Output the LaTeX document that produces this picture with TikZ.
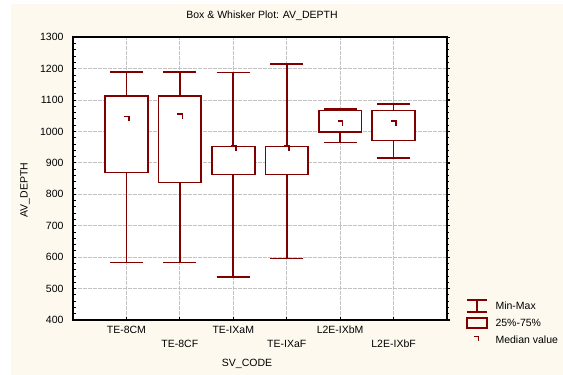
\documentclass[tikz,border=0pt]{standalone}
\usepackage{fontspec}
\setmainfont{Liberation Sans}
\definecolor{boxred}{RGB}{128,0,0}
\definecolor{cream}{RGB}{253,249,238}
\definecolor{gridgray}{RGB}{195,195,195}

\begin{document}
\begin{tikzpicture}[x=1pt,y=-1pt,font=\fontsize{10.5}{12}\selectfont,
  grid/.style={gridgray,line width=1.1pt,dash pattern=on 3.5pt off 1.5pt},
  whisk/.style={boxred,line width=1.7pt},
  frame/.style={black,line width=1.8pt}]
\useasboundingbox (0,0) rectangle (563,375);
\fill[cream] (11,4) rectangle (563,375);
\node (title) at (262,16) {Box \& Whisker Plot: AV\_DEPTH};
\node[rotate=90] (ylabel) at (25,190) {AV\_DEPTH};
\node (xlabel) at (247,364) {SV\_CODE};
% plot area in data units
\begin{scope}[shift={(73,445.6)},x=53.43pt,y=0.3141pt]
\fill[white] (0,400) rectangle (7,1300);
\foreach \v in {500,600,...,1200}
  \draw[grid] (0,\v) -- (7,\v);
\foreach \k in {1,...,6}
  \draw[grid] (\k,400) -- (\k,1300);
% boxes: position/min/q1/median/q3/max
\foreach \k/\lo/\qa/\md/\qb/\hi in {1/583/869/1040/1112/1189,
    2/583/838/1048/1112/1189, 3/537/863/946/952/1188,
    4/596/863/946/952/1214, 5/965/998/1025/1067/1072,
    6/915/971/1025/1067/1087}{
  \draw[whisk] (\k,\qb) -- (\k,\hi) (\k-0.31,\hi) -- (\k+0.31,\hi);
  \draw[whisk] (\k,\qa) -- (\k,\lo) (\k-0.31,\lo) -- (\k+0.31,\lo);
  \draw[whisk,fill=white] (\k-0.4,\qa) rectangle (\k+0.4,\qb);
  \draw[whisk,line width=1.5pt] ([xshift=-2.5pt,yshift=2.5pt]\k,\md) -- ++(5pt,0) -- ++(0,-5pt);
}
\draw[frame] (0,400) rectangle (7,1300);
\foreach \v in {420,440,...,1280}{
  \draw[black,line width=0.9pt] (0,\v) -- ++(2.5pt,0);
  \draw[black,line width=0.9pt] (7,\v) -- ++(2pt,0);
}
\foreach \v in {400,500,...,1300}{
  \node[anchor=east] (tick\v) at ([xshift=-6pt]0,\v) {\v};
  \draw[black,line width=1.2pt] (7,\v) -- ++(3pt,0);
}
\foreach \k/\name in {1/TE-8CM,3/TE-IXaM,5/L2E-IXbM}{
  \draw[black,line width=1pt] (\k,400) -- ++(0,3pt);
  \node (cat\k) at ([yshift=-10pt]\k,400) {\name};
}
\foreach \k/\name in {2/TE-8CF,4/TE-IXaF,6/L2E-IXbF}{
  \draw[black,line width=1pt] (\k,400) -- ++(0,3pt);
  \node (cat\k) at ([yshift=-24pt]\k,400) {\name};
}
\end{scope}
% legend
\draw[whisk] (467,300) -- (487,300) (477,300) -- (477,312) (467,312) -- (487,312);
\draw[whisk] (467,318) rectangle (487,328);
\draw[whisk,line width=1.5pt] (474,336.5) -- (478.5,336.5) -- (478.5,340.5);
\node[anchor=west] (minmax) at (492,306) {Min-Max};
\node[anchor=west] (quart) at (492,323) {25\%-75\%};
\node[anchor=west] (median) at (492,340) {Median value};
\end{tikzpicture}
\end{document}
